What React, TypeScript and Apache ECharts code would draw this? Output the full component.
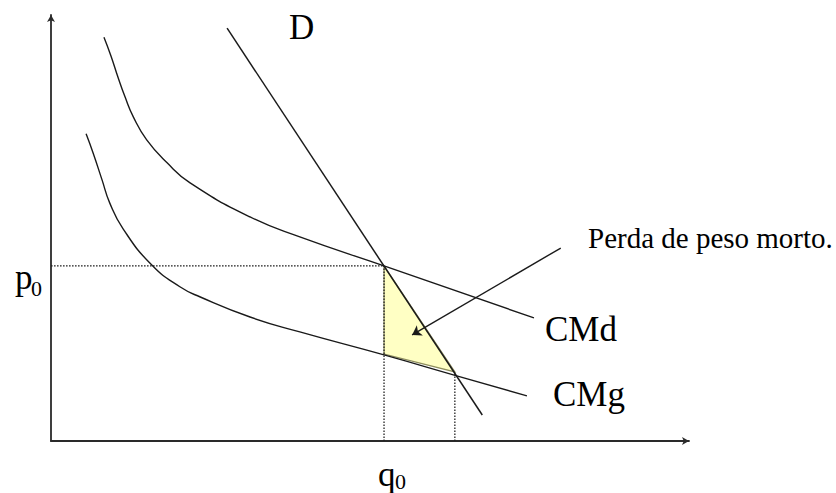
import React, { useEffect, useRef } from "react";
import * as echarts from "echarts";

// Data (abstract units: x = quantity 0..100, y = price 0..100)
const demandLine: number[][] = [[27.6, 96.9], [67.6, 6.1]];
const cmdCurve: number[][] = [
  [8.3, 94.8], [9.4, 90.4], [10.5, 85.4], [11.6, 80.8], [12.9, 76.1],
  [15.0, 70.7], [18.2, 65.3], [21.8, 60.6], [31.2, 52.6], [39.0, 47.9],
  [52.2, 41.1], [75.7, 28.9],
];
const cmgCurve: number[][] = [
  [5.5, 72.1], [6.6, 67.6], [8.0, 61.3], [9.2, 55.9], [11.3, 49.8],
  [15.8, 41.3], [20.2, 36.2], [23.4, 33.8], [31.2, 29.1], [39.0, 25.6],
  [52.2, 20.2], [63.6, 15.3], [74.6, 10.6],
];
const p0 = 41.1;
const q0 = 52.2;
const qMg = 63.3;
const pMg = 16.2;
const pTriangleBottom = 20.4;
const deadweightTriangle: number[][] = [[q0, p0], [q0, pTriangleBottom], [qMg, pMg]];
const arrowFrom: number[] = [79.9, 45.3];
const arrowTo: number[] = [56.6, 24.9];
const labels = {
  demand: "D",
  cmd: "CMd",
  cmg: "CMg",
  deadweight: "Perda de peso morto.",
  p: "p",
  q: "q",
  sub: "0",
};

const SERIF = '"Liberation Serif", "Times New Roman", serif';

export default function App() {
  const ref = useRef<HTMLDivElement>(null);
  useEffect(() => {
    if (!ref.current) return;
    const chart = echarts.init(ref.current, null, { renderer: "svg" });
    const lineStyle = { color: "#1a1a1a", width: 1.4 };
    const dotted = { color: "#222", width: 1.3, type: [1.6, 1.4] as any };
    const curve = {
      type: "line", z: 4, smooth: 0.5,
      showSymbol: false, symbol: "none", lineStyle,
    };
    chart.setOption({
      animation: false,
      backgroundColor: "#fff",
      grid: { left: 51, right: 147, top: 15, bottom: 52 },
      xAxis: {
        type: "value", min: 0, max: 100,
        splitLine: { show: false }, axisTick: { show: false }, axisLabel: { show: false },
        axisLine: {
          show: true, onZero: false, symbol: ["none", "arrow"], symbolSize: [6, 7],
          lineStyle: { color: "#2a2a2a", width: 1.8 },
        },
      },
      yAxis: {
        type: "value", min: 0, max: 100,
        splitLine: { show: false }, axisTick: { show: false }, axisLabel: { show: false },
        axisLine: {
          show: true, onZero: false, symbol: ["none", "arrow"], symbolSize: [6, 7],
          lineStyle: { color: "#2a2a2a", width: 1.8 },
        },
      },
      series: [
        {
          type: "custom",
          z: 1,
          data: [[0]],
          renderItem: (_params: any, api: any) => ({
            type: "polygon",
            shape: { points: deadweightTriangle.map((p) => api.coord(p)) },
            style: { fill: "#ffffc4", stroke: "#8e8e5c", lineWidth: 1.3 },
          }),
        },
        { type: "line", z: 3, data: [[0, p0], [q0, p0]], showSymbol: false, symbol: "none", lineStyle: dotted },
        { type: "line", z: 3, data: [[q0, 0], [q0, p0]], showSymbol: false, symbol: "none", lineStyle: dotted },
        { type: "line", z: 3, data: [[qMg, 0], [qMg, pMg]], showSymbol: false, symbol: "none", lineStyle: dotted },
        { type: "line", z: 4, data: demandLine, showSymbol: false, symbol: "none", lineStyle: { color: "#1a1a1a", width: 1.5 } },
        { ...curve, data: cmdCurve },
        { ...curve, data: cmgCurve },
        {
          type: "line", z: 5, data: [], showSymbol: false,
          markLine: {
            silent: true, animation: false,
            symbol: ["none", "arrow"], symbolSize: 9,
            label: { show: false },
            lineStyle: { color: "#1a1a1a", width: 1.4, type: "solid" },
            data: [[{ coord: arrowFrom }, { coord: arrowTo }]],
          },
        },
      ],
      graphic: [
        { type: "text", x: 289, y: 27, style: { text: labels.demand, font: `35px ${SERIF}`, fill: "#000", textVerticalAlign: "middle" } },
        { type: "text", x: 545, y: 329, style: { text: labels.cmd, font: `35px ${SERIF}`, fill: "#000", textVerticalAlign: "middle" } },
        { type: "text", x: 553, y: 394, style: { text: labels.cmg, font: `35px ${SERIF}`, fill: "#000", textVerticalAlign: "middle" } },
        { type: "text", x: 588, y: 238, style: { text: labels.deadweight, font: `29px ${SERIF}`, fill: "#000", textVerticalAlign: "middle" } },
        { type: "text", x: 15, y: 277, style: { text: labels.p, font: `35px ${SERIF}`, fill: "#000", textVerticalAlign: "middle" } },
        { type: "text", x: 31, y: 288, style: { text: labels.sub, font: `22px ${SERIF}`, fill: "#000", textVerticalAlign: "middle" } },
        { type: "text", x: 378, y: 474, style: { text: labels.q, font: `35px ${SERIF}`, fill: "#000", textVerticalAlign: "middle" } },
        { type: "text", x: 395, y: 481, style: { text: labels.sub, font: `22px ${SERIF}`, fill: "#000", textVerticalAlign: "middle" } },
      ],
    });
    return () => chart.dispose();
  }, []);
  return (
    <div
      ref={ref}
      style={{ position: "absolute", left: 0, top: 0, width: 836, height: 493, background: "#fff" }}
    />
  );
}
